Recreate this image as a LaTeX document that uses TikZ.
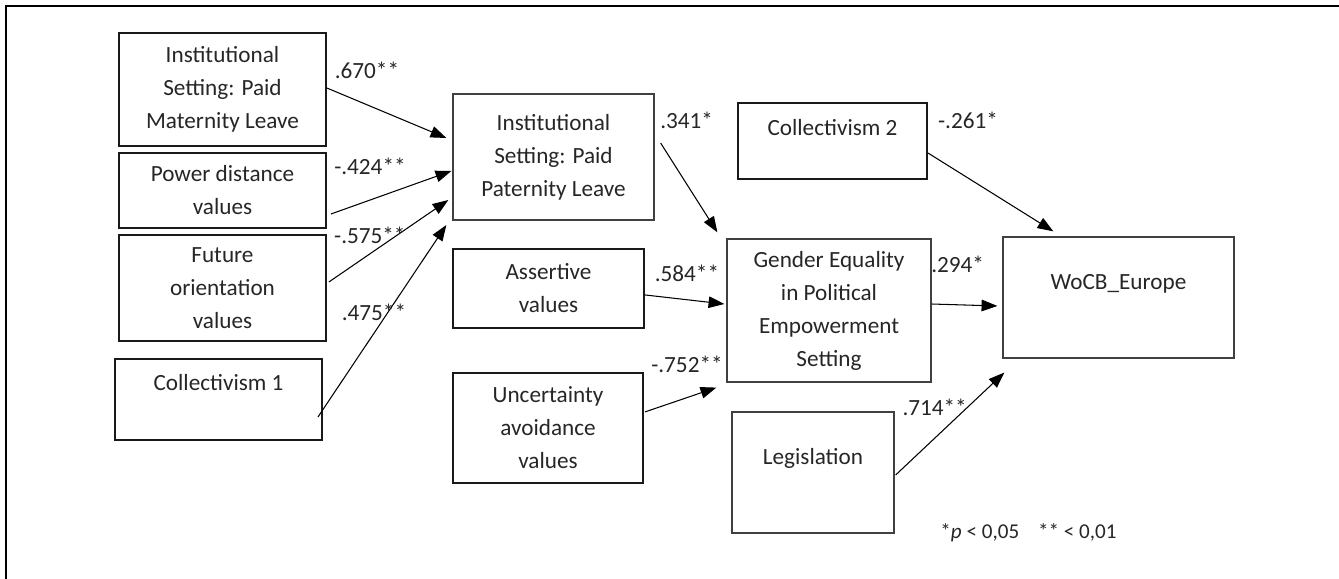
\documentclass[tikz,border=0pt]{standalone}
\usepackage{fontspec}
\setmainfont{Carlito}
\usetikzlibrary{arrows.meta}

\tikzset{
  >={Triangle[length=7.5pt,width=5.5pt]},
  var/.style={draw=black!90, line width=0.9pt, align=center, text=black!85,
    font=\fontsize{11}{15.65}\selectfont, inner sep=2pt},
  lat/.style={var, draw=black!75, line width=0.6pt},
  coef/.style={pos=0, anchor=center, text=black!85,
    font=\fontsize{11}{13}\selectfont, inner sep=0pt},
}

\begin{document}
\begin{tikzpicture}[line width=0.5pt]
\useasboundingbox (0,0) rectangle (22.317,9.65);
\draw[line width=1pt] (0.1,0) -- (0.1,9.55) -- (22.317,9.55);

% left column
\node[var, minimum width=3.45cm, minimum height=1.883cm] (mat) at (3.708,8.158) {Institutional\\Setting: Paid\\Maternity Leave};
\node[var, minimum width=3.45cm, minimum height=1.25cm] (pd) at (3.708,6.475) {Power distance\\values};
\node[var, minimum width=3.45cm, minimum height=1.767cm] (fut) at (3.708,4.85) {Future\\orientation\\values};
\node[var, minimum width=3.45cm, inner ysep=0pt, text height=0.533cm, text depth=0.817cm] (col1) at (3.642,2.992) {Collectivism 1};

% middle column
\node[lat, minimum width=3.35cm, minimum height=2.1cm] (pat) at (9.225,7.033) {Institutional\\Setting: Paid\\Paternity Leave};
\node[var, minimum width=3.183cm, minimum height=1.317cm] (ass) at (9.142,4.842) {Assertive\\values};
\node[var, minimum width=3.167cm, minimum height=1.833cm] (unc) at (9.133,2.517) {Uncertainty\\avoidance\\values};

% right part
\node[lat, minimum width=3.4cm, minimum height=2.383cm] (gen) at (13.817,4.475) {Gender Equality\\in Political\\Empowerment\\Setting};
\node[var, minimum width=3.15cm, inner ysep=0pt, text height=0.55cm, text depth=0.717cm] (col2) at (13.875,7.3) {Collectivism 2};
\node[lat, minimum width=2.7cm, inner ysep=0pt, text height=0.883cm, text depth=1.133cm] (leg) at (13.55,1.775) {Legislation};
\node[lat, minimum width=3.85cm, inner ysep=0pt, text height=0.883cm, text depth=1.133cm] (woc) at (18.642,4.692) {WoCB\_Europe};

\node[text=black!85, font=\fontsize{10}{12}\selectfont] (note) at (17.142,0.767) {*\textit{p} < 0,05\hspace{9pt}** < 0,01};

\path[->]
  ([yshift=0.025cm]mat.east) edge node[coef, shift={(0.667,0.3)}] {.670**} ([shift={(-0.1,0.317)}]pat.west)
  ([shift={(0.067,-0.392)}]pd.east) edge node[coef, shift={(0.65,0.8)}] {-.424**} ([shift={(-0.017,-0.233)}]pat.west)
  ([shift={(0.033,0.1)}]fut.east) edge node[coef, shift={(0.683,0.783)}] {-.575**} ([shift={(-0.067,-0.717)}]pat.west)
  ([shift={(-0.083,-0.292)}]col1.east) edge node[coef, shift={(0.933,1.75)}] {.475**} ([shift={(-0.1,-1.133)}]pat.west)
  ([shift={(0.1,0.233)}]pat.east) edge node[coef, shift={(0.433,0.383)}] {.341*} ([shift={(-0.15,0.1)}]gen.north west)
  ([yshift=-0.108cm]ass.east) edge node[coef, shift={(0.7,0.367)}] {.584**} ([shift={(-0.033,0.108)}]gen.west)
  ([shift={(0.017,0.267)}]unc.east) edge node[coef, shift={(0.7,0.8)}] {-.752**} ([shift={(-0.167,-0.083)}]gen.south west)
  ([yshift=-0.2cm]col2.east) edge node[coef, shift={(0.667,0.55)}] {-.261*} ([shift={(0.85,0.083)}]woc.north west)
  ([yshift=0.108cm]gen.east) edge node[coef, shift={(0.433,0.667)}] {.294*} ([shift={(-0.083,-0.142)}]woc.west)
  ([shift={(0.017,-0.042)}]leg.east) edge node[coef, shift={(0.65,1.133)}] {.714**} ([shift={(0.033,-0.233)}]woc.south west);
\end{tikzpicture}
\end{document}
